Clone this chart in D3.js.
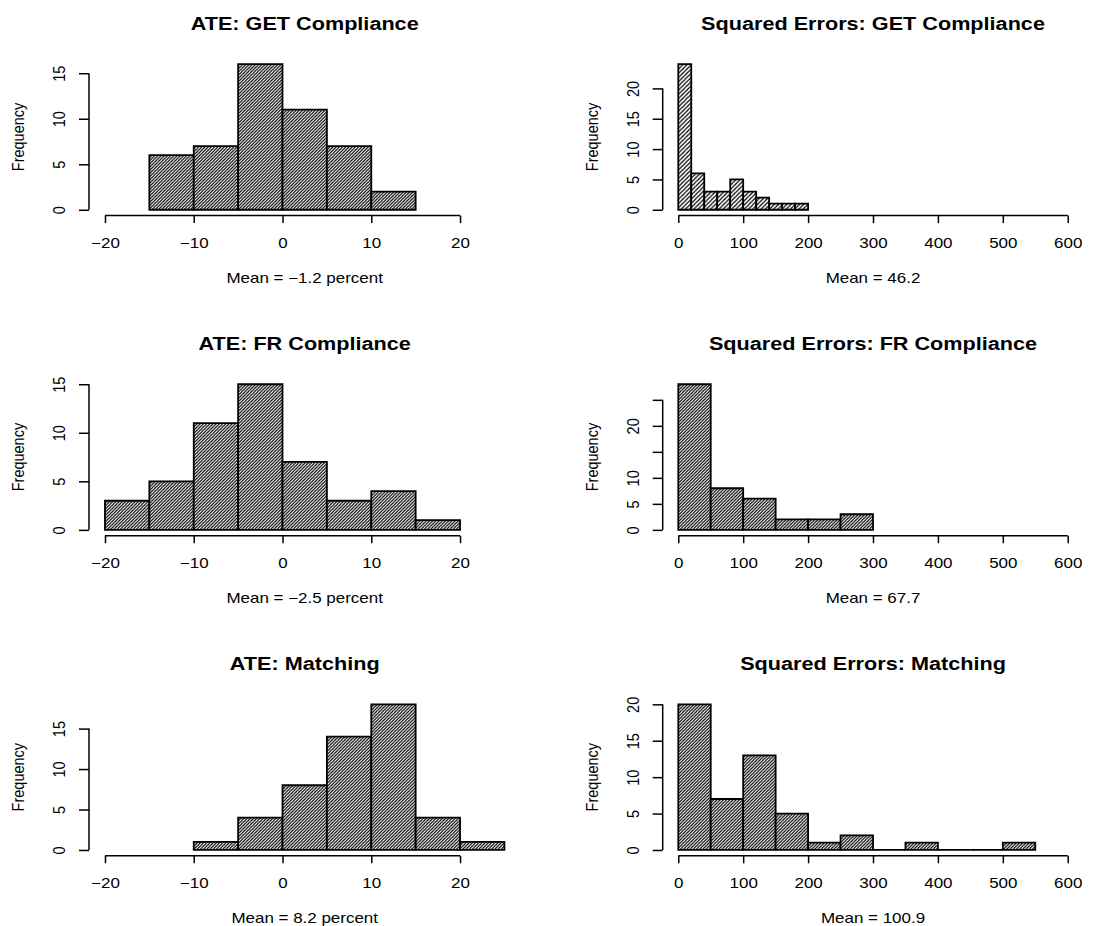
<!DOCTYPE html>
<html>
<head>
<meta charset="utf-8">
<script src="https://cdn.jsdelivr.net/npm/d3@7"></script>
<style>
    body { margin: 0; background: white; }
    svg text { font-family: "Liberation Sans", Arial, Helvetica, sans-serif; fill: black; }
</style>
</head>
<body>
<div id="chart"></div>
<script>

// bin edges and counts
const getAteBreaks = [-15, -10, -5, 0, 5, 10, 15];
const getAteCounts = [6, 7, 16, 11, 7, 2];
const getSqBreaks = [0, 20, 40, 60, 80, 100, 120, 140, 160, 180, 200];
const getSqCounts = [24, 6, 3, 3, 5, 3, 2, 1, 1, 1];

const frAteBreaks = [-20, -15, -10, -5, 0, 5, 10, 15, 20];
const frAteCounts = [3, 5, 11, 15, 7, 3, 4, 1];
const frSqBreaks = [0, 50, 100, 150, 200, 250, 300];
const frSqCounts = [28, 8, 6, 2, 2, 3];

const matchAteBreaks = [-10, -5, 0, 5, 10, 15, 20, 25];
const matchAteCounts = [1, 4, 8, 14, 18, 4, 1];
const matchSqBreaks = [0, 50, 100, 150, 200, 250, 300, 350, 400, 450, 500, 550];
const matchSqCounts = [20, 7, 13, 5, 1, 2, 0, 1, 0, 0, 1];

const titles = ["ATE: GET Compliance", "Squared Errors: GET Compliance",
    "ATE: FR Compliance", "Squared Errors: FR Compliance",
    "ATE: Matching", "Squared Errors: Matching"];
const xLabels = ["Mean = \u22121.2 percent", "Mean = 46.2",
    "Mean = \u22122.5 percent", "Mean = 67.7",
    "Mean = 8.2 percent", "Mean = 100.9"];

const ateXLim = [-20, 25];
const sqXLim = [0, 600];
const ateXTicks = [-20, -10, 0, 10, 20];
const sqXTicks = [0, 100, 200, 300, 400, 500, 600];

const yTicks = [
    [0, 5, 10, 15],
    [0, 5, 10, 15, 20],
    [0, 5, 10, 15],
    [0, 5, 10, 15, 20, 25],
    [0, 5, 10, 15],
    [0, 5, 10, 15, 20]
];
// R drops labels that would collide
const yTickLabels = [
    ["0", "5", "10", "15"],
    ["0", "5", "10", "15", "20"],
    ["0", "5", "10", "15"],
    ["0", "5", "10", "", "20", ""],
    ["0", "5", "10", "15"],
    ["0", "5", "10", "15", "20"]
];

const panels = [
    { breaks: getAteBreaks, counts: getAteCounts, xlim: ateXLim, xticks: ateXTicks },
    { breaks: getSqBreaks, counts: getSqCounts, xlim: sqXLim, xticks: sqXTicks },
    { breaks: frAteBreaks, counts: frAteCounts, xlim: ateXLim, xticks: ateXTicks },
    { breaks: frSqBreaks, counts: frSqCounts, xlim: sqXLim, xticks: sqXTicks },
    { breaks: matchAteBreaks, counts: matchAteCounts, xlim: ateXLim, xticks: ateXTicks },
    { breaks: matchSqBreaks, counts: matchSqCounts, xlim: sqXLim, xticks: sqXTicks }
];

const W = 1113, H = 926;
const colLeft = [89, 662.7], colRight = [520.4, 1083.3];
const rowTop = [58.3, 378.4, 698.5];
const plotH = 157.3;
const sx = 1.17;   // the picture is a bit wider than tall in its text
const fontSize = 14.5, titleSize = 18.5;

const svg = d3.select("#chart").append("svg")
    .attr("width", W)
    .attr("height", H);

const defs = svg.append("defs");
[3.2, 4.2].forEach((p, i) => {
    defs.append("pattern")
        .attr("id", "hatch" + i)
        .attr("patternUnits", "userSpaceOnUse")
        .attr("width", p)
        .attr("height", p)
        .call(pt => pt.append("rect").attr("width", p).attr("height", p).attr("fill", "white"))
        .append("path")
        .attr("d", `M${-p / 2},${p / 2} L${p / 2},${-p / 2} M0,${p} L${p},0 M${p / 2},${p * 1.5} L${p * 1.5},${p / 2}`)
        .attr("stroke", "black")
        .attr("stroke-width", 1.2);
});

panels.forEach((d, i) => {
    let col = i % 2, row = Math.floor(i / 2);
    let left = colLeft[col], right = colRight[col];
    let top = rowTop[row], bottom = top + plotH;

    // R style 4% padding on each end
    let xr = d.xlim[1] - d.xlim[0];
    let x = d3.scaleLinear()
        .domain([d.xlim[0] - 0.04 * xr, d.xlim[1] + 0.04 * xr])
        .range([left, right]);
    let ymax = d3.max(d.counts);
    let y = d3.scaleLinear()
        .domain([-0.04 * ymax, 1.04 * ymax])
        .range([bottom, top]);

    let g = svg.append("g");

    let bins = d.counts.map((c, j) => ({ x0: d.breaks[j], x1: d.breaks[j + 1], count: c }));

    g.selectAll(".bar")
        .data(bins)
        .enter()
        .append("path")
        .attr("class", "bar")
        .attr("d", b => `M${x(b.x0)},${y(0)} H${x(b.x1)} V${y(b.count)} H${x(b.x0)} Z`)
        .attr("fill", i === 1 ? "url(#hatch1)" : "url(#hatch0)")
        .attr("stroke", "black")
        .attr("stroke-width", 1.8)
        .attr("stroke-linejoin", "miter");

    // x axis
    let xAxis = d3.axisBottom(x)
        .tickValues(d.xticks)
        .tickSize(7.5)
        .tickSizeOuter(0)
        .tickFormat(v => (v < 0 ? "\u2212" + Math.abs(v) : v));
    let xg = g.append("g")
        .attr("transform", `translate(0,${bottom})`)
        .call(xAxis);
    xg.select(".domain").remove();
    xg.append("line")
        .attr("x1", x(d.xticks[0]))
        .attr("x2", x(d.xticks[d.xticks.length - 1]))
        .attr("stroke", "black")
        .attr("stroke-width", 1.5);
    xg.selectAll(".tick line").attr("stroke", "black").attr("stroke-width", 1.5);
    xg.selectAll(".tick text")
        .attr("y", 0)
        .attr("dy", "0.35em")
        .attr("transform", `translate(0,27.6) scale(${sx},1)`)
        .style("font-size", fontSize + "px")
        .attr("fill", "black");

    // y axis
    let labels = yTickLabels[i];
    let yAxis = d3.axisLeft(y)
        .tickValues(yTicks[i])
        .tickSize(10)
        .tickSizeOuter(0)
        .tickFormat((v, k) => labels[k]);
    let yg = g.append("g")
        .attr("transform", `translate(${left},0)`)
        .call(yAxis);
    yg.select(".domain").remove();
    yg.append("line")
        .attr("y1", y(yTicks[i][0]))
        .attr("y2", y(yTicks[i][yTicks[i].length - 1]))
        .attr("stroke", "black")
        .attr("stroke-width", 1.5);
    yg.selectAll(".tick line").attr("stroke", "black").attr("stroke-width", 1.5);
    yg.selectAll(".tick text")
        .attr("x", 0)
        .attr("dy", "0.35em")
        .attr("transform", `translate(-29.5,0) scale(${sx},1) rotate(-90)`)
        .style("text-anchor", "middle")
        .style("font-size", fontSize + "px")
        .attr("fill", "black");

    let cx = (left + right) / 2;

    // title
    g.append("text")
        .attr("transform", `translate(${cx},${top - 35.3}) scale(${sx},1)`)
        .attr("dy", "0.36em")
        .style("text-anchor", "middle")
        .style("font-size", titleSize + "px")
        .style("font-weight", "bold")
        .text(titles[i]);

    // x label
    g.append("text")
        .attr("transform", `translate(${cx},${bottom + 62}) scale(${sx},1)`)
        .attr("dy", "0.35em")
        .style("text-anchor", "middle")
        .style("font-size", fontSize + "px")
        .text(xLabels[i]);

    // y label
    g.append("text")
        .attr("transform", `translate(${left - 70.5},${(top + bottom) / 2}) scale(${sx},1) rotate(-90)`)
        .attr("dy", "0.35em")
        .style("text-anchor", "middle")
        .style("font-size", fontSize + "px")
        .text("Frequency");
});

</script>
</body>
</html>
